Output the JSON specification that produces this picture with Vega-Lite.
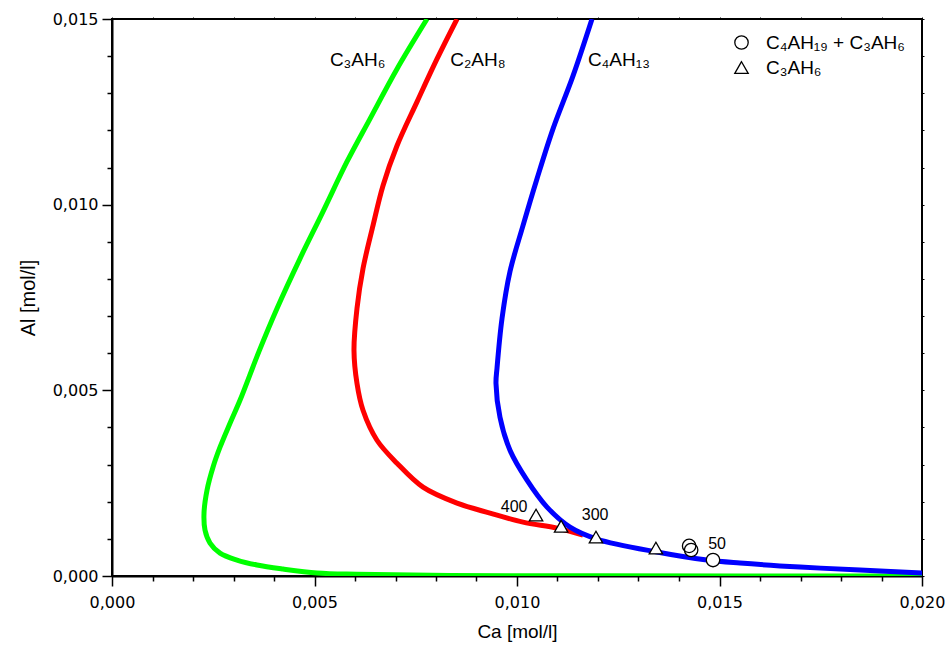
{
  "$schema": "https://vega.github.io/schema/vega-lite/v6.json",
  "autosize": {"type": "none"},
  "padding": {"left": 112, "top": 19, "right": 29, "bottom": 70},
  "width": 810,
  "height": 557,
  "background": "white",
  "config": {
    "view": {"stroke": "black", "strokeWidth": 2},
    "font": "Liberation Sans"
  },
  "datasets": {
    "curves": [
      {"series": "C3AH6", "i": 1, "Ca": 0.007778, "Al": 0.015},
      {"series": "C3AH6", "i": 2, "Ca": 0.007037, "Al": 0.013656},
      {"series": "C3AH6", "i": 3, "Ca": 0.00637, "Al": 0.012312},
      {"series": "C3AH6", "i": 4, "Ca": 0.005802, "Al": 0.011156},
      {"series": "C3AH6", "i": 5, "Ca": 0.00521, "Al": 0.009812},
      {"series": "C3AH6", "i": 6, "Ca": 0.004642, "Al": 0.008548},
      {"series": "C3AH6", "i": 7, "Ca": 0.004074, "Al": 0.007204},
      {"series": "C3AH6", "i": 8, "Ca": 0.00363, "Al": 0.006048},
      {"series": "C3AH6", "i": 9, "Ca": 0.00316, "Al": 0.004731},
      {"series": "C3AH6", "i": 10, "Ca": 0.002914, "Al": 0.004113},
      {"series": "C3AH6", "i": 11, "Ca": 0.002667, "Al": 0.003468},
      {"series": "C3AH6", "i": 12, "Ca": 0.002494, "Al": 0.00293},
      {"series": "C3AH6", "i": 13, "Ca": 0.002346, "Al": 0.002312},
      {"series": "C3AH6", "i": 14, "Ca": 0.002272, "Al": 0.001694},
      {"series": "C3AH6", "i": 15, "Ca": 0.002296, "Al": 0.001237},
      {"series": "C3AH6", "i": 16, "Ca": 0.00242, "Al": 0.000887},
      {"series": "C3AH6", "i": 17, "Ca": 0.002667, "Al": 0.000618},
      {"series": "C3AH6", "i": 18, "Ca": 0.003086, "Al": 0.00043},
      {"series": "C3AH6", "i": 19, "Ca": 0.00358, "Al": 0.000296},
      {"series": "C3AH6", "i": 20, "Ca": 0.004222, "Al": 0.000188},
      {"series": "C3AH6", "i": 21, "Ca": 0.005062, "Al": 0.000081},
      {"series": "C3AH6", "i": 22, "Ca": 0.006049, "Al": 0.000045},
      {"series": "C3AH6", "i": 23, "Ca": 0.008346, "Al": 0.000013},
      {"series": "C3AH6", "i": 24, "Ca": 0.01205, "Al": 0.000005},
      {"series": "C3AH6", "i": 25, "Ca": 0.02, "Al": 0.000002},
      {"series": "C2AH8", "i": 1, "Ca": 0.008519, "Al": 0.015},
      {"series": "C2AH8", "i": 2, "Ca": 0.008025, "Al": 0.013925},
      {"series": "C2AH8", "i": 3, "Ca": 0.007531, "Al": 0.012769},
      {"series": "C2AH8", "i": 4, "Ca": 0.007037, "Al": 0.011586},
      {"series": "C2AH8", "i": 5, "Ca": 0.006691, "Al": 0.010511},
      {"series": "C2AH8", "i": 6, "Ca": 0.006444, "Al": 0.009435},
      {"series": "C2AH8", "i": 7, "Ca": 0.006198, "Al": 0.00828},
      {"series": "C2AH8", "i": 8, "Ca": 0.006049, "Al": 0.007204},
      {"series": "C2AH8", "i": 9, "Ca": 0.005975, "Al": 0.006075},
      {"series": "C2AH8", "i": 10, "Ca": 0.006049, "Al": 0.005188},
      {"series": "C2AH8", "i": 11, "Ca": 0.006198, "Al": 0.004462},
      {"series": "C2AH8", "i": 12, "Ca": 0.006543, "Al": 0.003656},
      {"series": "C2AH8", "i": 13, "Ca": 0.007037, "Al": 0.003038},
      {"series": "C2AH8", "i": 14, "Ca": 0.007679, "Al": 0.002392},
      {"series": "C2AH8", "i": 15, "Ca": 0.008519, "Al": 0.001962},
      {"series": "C2AH8", "i": 16, "Ca": 0.009333, "Al": 0.001694},
      {"series": "C2AH8", "i": 17, "Ca": 0.010148, "Al": 0.001452},
      {"series": "C2AH8", "i": 18, "Ca": 0.010988, "Al": 0.00129},
      {"series": "C2AH8", "i": 19, "Ca": 0.01163, "Al": 0.001102},
      {"series": "C4AH13", "i": 1, "Ca": 0.011852, "Al": 0.015},
      {"series": "C4AH13", "i": 2, "Ca": 0.011383, "Al": 0.013468},
      {"series": "C4AH13", "i": 3, "Ca": 0.010889, "Al": 0.012043},
      {"series": "C4AH13", "i": 4, "Ca": 0.010494, "Al": 0.010699},
      {"series": "C4AH13", "i": 5, "Ca": 0.010148, "Al": 0.009435},
      {"series": "C4AH13", "i": 6, "Ca": 0.009827, "Al": 0.008199},
      {"series": "C4AH13", "i": 7, "Ca": 0.00963, "Al": 0.006935},
      {"series": "C4AH13", "i": 8, "Ca": 0.009506, "Al": 0.005591},
      {"series": "C4AH13", "i": 9, "Ca": 0.009481, "Al": 0.005188},
      {"series": "C4AH13", "i": 10, "Ca": 0.00958, "Al": 0.004274},
      {"series": "C4AH13", "i": 11, "Ca": 0.009827, "Al": 0.003387},
      {"series": "C4AH13", "i": 12, "Ca": 0.010247, "Al": 0.002581},
      {"series": "C4AH13", "i": 13, "Ca": 0.010741, "Al": 0.001855},
      {"series": "C4AH13", "i": 14, "Ca": 0.011309, "Al": 0.001317},
      {"series": "C4AH13", "i": 15, "Ca": 0.011975, "Al": 0.000995},
      {"series": "C4AH13", "i": 16, "Ca": 0.013457, "Al": 0.000645},
      {"series": "C4AH13", "i": 17, "Ca": 0.014691, "Al": 0.00043},
      {"series": "C4AH13", "i": 18, "Ca": 0.015506, "Al": 0.000349},
      {"series": "C4AH13", "i": 19, "Ca": 0.016988, "Al": 0.000242},
      {"series": "C4AH13", "i": 20, "Ca": 0.018469, "Al": 0.000161},
      {"series": "C4AH13", "i": 21, "Ca": 0.02, "Al": 0.000081}
    ],
    "markers": [
      {"type": "C₃AH₆", "Ca": 0.01047, "Al": 0.00164},
      {"type": "C₃AH₆", "Ca": 0.01109, "Al": 0.00134},
      {"type": "C₃AH₆", "Ca": 0.01195, "Al": 0.00105},
      {"type": "C₃AH₆", "Ca": 0.01343, "Al": 0.000753},
      {"type": "C₄AH₁₉ + C₃AH₆", "Ca": 0.01425, "Al": 0.00081},
      {"type": "C₄AH₁₉ + C₃AH₆", "Ca": 0.0143, "Al": 0.0007},
      {"type": "C₄AH₁₉ + C₃AH₆", "Ca": 0.01484, "Al": 0.00043}
    ],
    "curveLabels": [
      {"label": "C₃AH₆", "Ca": 0.00538, "Al": 0.0139},
      {"label": "C₂AH₈", "Ca": 0.00835, "Al": 0.0139},
      {"label": "C₄AH₁₃", "Ca": 0.01175, "Al": 0.0139}
    ],
    "tempLabels": [
      {"label": "400", "Ca": 0.00993, "Al": 0.00186},
      {"label": "300", "Ca": 0.01193, "Al": 0.00164},
      {"label": "50", "Ca": 0.01494, "Al": 0.00086}
    ]
  },
  "resolve": {"axis": {"x": "independent", "y": "independent"}},
  "layer": [
    {
      "data": {"name": "curves"},
      "transform": [{"filter": "datum.series == 'C3AH6'"}],
      "mark": {"type": "line", "strokeWidth": 5, "color": "#00ff00", "clip": true, "interpolate": "catmull-rom"},
      "encoding": {
        "x": {
          "field": "Ca", "type": "quantitative",
          "scale": {"domain": [0, 0.02], "nice": false, "zero": false},
          "axis": {
            "orient": "bottom",
            "values": [0, 0.001, 0.002, 0.003, 0.004, 0.005, 0.006, 0.007, 0.008, 0.009, 0.01, 0.011, 0.012, 0.013, 0.014, 0.015, 0.016, 0.017, 0.018, 0.019, 0.02],
            "labelExpr": "abs(datum.value*200 - round(datum.value*200)) < 0.001 ? replace(format(datum.value, '.3f'), '.', ',') : ''",
            "tickSize": {"condition": {"test": "abs(datum.value*200 - round(datum.value*200)) < 0.001", "value": 10}, "value": 5},
            "tickColor": "black", "tickWidth": 1.5,
            "domainColor": "black", "domainWidth": 2,
            "grid": false,
            "labelFont": "DejaVu Sans", "labelFontSize": 16, "labelColor": "black",
            "labelPadding": 8, "labelFlush": false, "labelOverlap": false,
            "title": "Ca [mol/l]", "titleFont": "Liberation Sans", "titleFontSize": 19,
            "titleFontWeight": "normal", "titleColor": "black", "titlePadding": 12
          }
        },
        "y": {
          "field": "Al", "type": "quantitative",
          "scale": {"domain": [0, 0.015], "nice": false, "zero": false},
          "axis": {
            "orient": "left",
            "values": [0, 0.001, 0.002, 0.003, 0.004, 0.005, 0.006, 0.007, 0.008, 0.009, 0.01, 0.011, 0.012, 0.013, 0.014, 0.015],
            "labelExpr": "abs(datum.value*200 - round(datum.value*200)) < 0.001 ? replace(format(datum.value, '.3f'), '.', ',') : ''",
            "tickSize": {"condition": {"test": "abs(datum.value*200 - round(datum.value*200)) < 0.001", "value": 10}, "value": 5},
            "tickColor": "black", "tickWidth": 1.5,
            "domainColor": "black", "domainWidth": 2,
            "grid": false,
            "labelFont": "DejaVu Sans", "labelFontSize": 16, "labelColor": "black",
            "labelPadding": 4, "labelFlush": false, "labelOverlap": false,
            "title": "Al [mol/l]", "titleFont": "Liberation Sans", "titleFontSize": 20,
            "titleFontWeight": "normal", "titleColor": "black", "titlePadding": 14
          }
        },
        "order": {"field": "i", "type": "quantitative"}
      }
    },
    {
      "data": {"name": "curves"},
      "transform": [{"filter": "datum.series == 'C2AH8'"}],
      "mark": {"type": "line", "strokeWidth": 5, "color": "#ff0000", "clip": true, "interpolate": "catmull-rom"},
      "encoding": {
        "x": {"field": "Ca", "type": "quantitative", "axis": null},
        "y": {"field": "Al", "type": "quantitative", "axis": null},
        "order": {"field": "i", "type": "quantitative"}
      }
    },
    {
      "data": {"name": "curves"},
      "transform": [{"filter": "datum.series == 'C4AH13'"}],
      "mark": {"type": "line", "strokeWidth": 5, "color": "#0000ff", "clip": true, "interpolate": "catmull-rom"},
      "encoding": {
        "x": {"field": "Ca", "type": "quantitative", "axis": null},
        "y": {"field": "Al", "type": "quantitative", "axis": null},
        "order": {"field": "i", "type": "quantitative"}
      }
    },
    {
      "data": {"name": "markers"},
      "transform": [{"filter": "datum.type == 'C₃AH₆'"}],
      "mark": {"type": "point", "shape": "triangle-up", "filled": true, "color": "white", "size": 180, "opacity": 1},
      "encoding": {
        "x": {"field": "Ca", "type": "quantitative", "axis": null},
        "y": {"field": "Al", "type": "quantitative", "axis": null}
      }
    },
    {
      "data": {"name": "markers"},
      "transform": [{"filter": "datum.type != 'C₃AH₆'"}],
      "mark": {"type": "point", "shape": "circle", "filled": true, "color": "white", "size": 180, "opacity": 1},
      "encoding": {
        "x": {"field": "Ca", "type": "quantitative", "axis": null},
        "y": {"field": "Al", "type": "quantitative", "axis": null}
      }
    },
    {
      "data": {"name": "markers"},
      "mark": {"type": "point", "filled": false, "color": "black", "strokeWidth": 1.3, "size": 180, "opacity": 1},
      "encoding": {
        "x": {"field": "Ca", "type": "quantitative", "axis": null},
        "y": {"field": "Al", "type": "quantitative", "axis": null},
        "shape": {
          "field": "type", "type": "nominal",
          "scale": {"domain": ["C₄AH₁₉ + C₃AH₆", "C₃AH₆"], "range": ["circle", "triangle-up"]},
          "legend": {
            "orient": "none", "legendX": 620, "legendY": 14,
            "title": null,
            "labelFont": "Liberation Sans", "labelFontSize": 19, "labelColor": "black",
            "symbolSize": 180, "symbolStrokeWidth": 1.3,
            "rowPadding": 5, "labelOffset": 15
          }
        }
      }
    },
    {
      "data": {"name": "curveLabels"},
      "mark": {"type": "text", "align": "left", "baseline": "middle", "fontSize": 19, "font": "Liberation Sans", "color": "black"},
      "encoding": {
        "x": {"field": "Ca", "type": "quantitative",
          "axis": {"orient": "top", "values": [0, 0.001, 0.002, 0.003, 0.004, 0.005, 0.006, 0.007, 0.008, 0.009, 0.01, 0.011, 0.012, 0.013, 0.014, 0.015, 0.016, 0.017, 0.018, 0.019, 0.02], "labels": false, "domain": false, "grid": false, "tickSize": 2, "tickColor": "black", "title": null}},
        "y": {"field": "Al", "type": "quantitative",
          "axis": {"orient": "right", "values": [0, 0.001, 0.002, 0.003, 0.004, 0.005, 0.006, 0.007, 0.008, 0.009, 0.01, 0.011, 0.012, 0.013, 0.014, 0.015], "labels": false, "domain": false, "grid": false, "tickSize": 2, "tickColor": "black", "title": null}},
        "text": {"field": "label"}
      }
    },
    {
      "data": {"name": "tempLabels"},
      "mark": {"type": "text", "align": "center", "baseline": "middle", "fontSize": 16, "font": "Liberation Sans", "color": "black"},
      "encoding": {
        "x": {"field": "Ca", "type": "quantitative", "axis": null},
        "y": {"field": "Al", "type": "quantitative", "axis": null},
        "text": {"field": "label"}
      }
    }
  ]
}
